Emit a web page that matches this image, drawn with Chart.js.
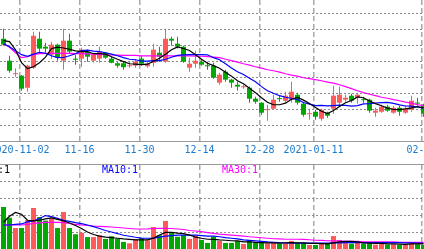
<!DOCTYPE html>
<html><head><meta charset="utf-8">
<script src="https://cdn.jsdelivr.net/npm/chart.js@4/dist/chart.umd.min.js"></script>
<style>
html,body{margin:0;padding:0;background:#fff;overflow:hidden;width:424px;height:249px}
#c1{position:absolute;left:0;top:0}
#c2{position:absolute;left:0;top:165px}
</style></head><body>
<canvas id="c1" width="424" height="165"></canvas>
<canvas id="c2" width="424" height="84"></canvas>
<script>
// ---- data ----
const tickPos = [3, 13, 23, 33, 43, 52, 70];
const tickLabels = ['2020-11-02', '11-16', '11-30', '12-14', '12-28', '2021-01-11', '02-04'];

const open = [6.43,5.05,4.20,4.11,3.35,4.61,6.43,5.93,5.43,6.06,
  5.05,6.31,5.18,5.18,5.62,5.05,5.18,5.55,5.18,4.89,
  4.89,4.70,4.74,5.18,4.70,4.92,5.55,4.99,6.43,6.12,
  5.93,4.61,4.86,4.99,4.77,4.74,3.67,4.36,3.86,3.54,
  3.38,3.35,2.66,2.41,1.94,2.03,2.69,2.53,2.60,2.91,
  2.35,1.69,1.84,1.40,1.78,2.03,2.41,2.60,2.85,2.72,
  2.63,2.60,1.78,1.84,2.16,1.78,2.09,1.78,1.97,2.41,2.28];
const high = [7.06,5.36,4.58,4.15,4.80,6.87,6.87,6.18,6.25,6.12,
  7.06,6.75,5.43,5.87,5.74,5.55,5.93,5.62,5.30,4.99,
  4.99,4.99,5.14,5.36,4.99,6.12,5.93,7.06,6.56,6.56,
  5.99,5.24,5.68,5.11,4.99,4.92,4.30,4.48,3.92,3.73,
  3.54,3.42,2.79,2.44,2.28,2.91,2.85,3.10,3.73,3.04,
  2.47,2.03,1.97,2.03,1.84,3.48,3.42,2.91,2.97,3.04,
  2.79,2.66,2.09,2.28,2.28,2.22,2.22,2.22,2.85,2.72,2.35];
const low = [5.99,4.30,4.04,3.16,3.10,4.55,5.62,5.55,5.18,5.05,
  4.48,5.49,4.80,4.67,4.99,4.92,4.92,5.18,4.89,4.61,
  4.48,4.61,4.61,4.74,4.61,4.67,4.99,4.92,5.99,5.81,
  4.92,4.36,4.61,4.74,4.48,3.92,3.54,3.73,3.35,3.16,
  3.29,2.41,2.35,1.65,1.28,1.97,2.47,2.41,2.41,2.28,
  1.53,1.34,1.34,1.28,1.47,1.72,2.22,2.47,2.41,2.35,
  2.41,1.78,1.53,1.78,1.84,1.72,1.59,1.72,1.84,2.22,1.53];
const close = [6.06,4.42,4.23,3.29,4.74,6.62,5.81,5.81,6.06,5.24,
  6.31,5.62,5.11,5.74,5.30,5.43,5.62,5.24,4.92,4.74,
  4.64,4.74,4.99,4.86,4.86,5.74,5.30,6.43,6.31,5.93,
  4.99,4.86,5.05,4.80,4.70,3.98,4.17,3.86,3.67,3.42,
  3.42,2.66,2.47,1.78,1.97,2.60,2.63,2.85,3.10,2.41,
  1.65,1.72,1.53,1.97,1.59,2.85,2.91,2.72,2.53,2.91,
  2.57,1.91,1.91,2.16,1.91,2.09,1.84,2.03,2.53,2.35,1.72];
const ma5 = [6.31,6.25,5.74,4.92,4.55,4.67,4.92,5.27,5.81,5.90,
  5.85,5.77,5.67,5.62,5.62,5.49,5.49,5.46,5.30,5.14,
  4.99,4.86,4.83,4.80,4.83,5.02,5.21,5.46,5.74,5.92,
  5.82,5.69,5.43,5.14,4.89,4.74,4.58,4.33,4.08,3.79,
  3.60,3.32,3.04,2.72,2.44,2.28,2.28,2.38,2.63,2.74,
  2.57,2.36,2.11,1.87,1.72,1.92,2.17,2.41,2.55,2.77,
  2.72,2.52,2.35,2.22,2.07,1.98,1.97,2.02,2.08,2.16,2.09];
const ma10 = [6.12,5.93,5.68,5.43,5.33,5.46,5.58,5.52,5.36,5.24,
  5.25,5.36,5.49,5.68,5.71,5.65,5.62,5.55,5.46,5.36,
  5.24,5.14,5.11,5.02,5.02,5.05,5.05,5.14,5.27,5.38,
  5.42,5.43,5.43,5.43,5.42,5.24,5.11,4.86,4.59,4.36,
  4.18,3.95,3.72,3.42,3.16,3.00,2.85,2.75,2.69,2.60,
  2.42,2.32,2.23,2.24,2.21,2.23,2.25,2.24,2.19,2.23,
  2.33,2.35,2.39,2.41,2.43,2.37,2.27,2.20,2.19,2.14,2.06];
const ma30 = [6.12,5.90,5.55,5.24,5.30,5.43,5.49,5.51,5.51,5.51,
  5.51,5.51,5.50,5.49,5.48,5.47,5.45,5.43,5.41,5.40,
  5.39,5.38,5.38,5.36,5.36,5.36,5.36,5.36,5.36,5.36,
  5.36,5.35,5.34,5.33,5.31,5.28,5.24,5.14,5.05,4.96,
  4.86,4.77,4.67,4.58,4.48,4.42,4.33,4.23,4.14,4.08,
  3.98,3.92,3.86,3.79,3.70,3.64,3.54,3.42,3.29,3.16,
  3.04,2.94,2.85,2.75,2.69,2.60,2.53,2.44,2.38,2.28,2.22];
const volume = [2.50,1.86,1.25,1.25,1.72,2.44,1.90,1.69,1.83,1.25,
  2.20,1.25,0.88,0.97,0.71,0.71,0.82,0.60,0.76,0.60,
  0.42,0.34,0.58,0.65,0.52,1.31,0.82,1.67,0.95,0.73,
  0.82,0.60,0.79,0.54,0.36,0.73,0.48,0.36,0.36,0.48,
  0.30,0.52,0.38,0.38,0.34,0.38,0.32,0.32,0.48,0.34,
  0.34,0.24,0.24,0.30,0.30,0.77,0.54,0.43,0.32,0.40,
  0.32,0.34,0.26,0.38,0.26,0.28,0.24,0.26,0.40,0.28,0.24];
const volMa5 = [1.59,1.95,2.18,2.07,1.71,1.67,1.71,1.79,1.85,1.76,
  1.67,1.55,1.40,1.22,1.01,0.86,0.77,0.71,0.68,0.64,
  0.60,0.57,0.54,0.54,0.54,0.65,0.83,0.99,0.99,0.95,
  0.92,0.83,0.71,0.64,0.58,0.57,0.54,0.52,0.49,0.48,
  0.43,0.43,0.40,0.38,0.36,0.36,0.35,0.36,0.38,0.37,
  0.36,0.34,0.33,0.32,0.30,0.36,0.42,0.45,0.45,0.42,
  0.37,0.35,0.33,0.33,0.31,0.30,0.29,0.28,0.31,0.31,0.30];
const volMa10 = [1.43,1.43,1.46,1.49,1.61,1.67,1.82,1.99,1.93,1.82,
  1.71,1.64,1.57,1.51,1.43,1.33,1.22,1.10,1.01,0.92,
  0.82,0.76,0.70,0.65,0.64,0.65,0.71,0.77,0.80,0.82,
  0.83,0.83,0.82,0.80,0.77,0.77,0.73,0.68,0.64,0.60,
  0.54,0.51,0.48,0.45,0.42,0.40,0.38,0.37,0.36,0.35,
  0.35,0.35,0.35,0.35,0.35,0.36,0.37,0.38,0.38,0.38,
  0.38,0.38,0.38,0.38,0.38,0.38,0.38,0.36,0.36,0.35,0.34];
const volMa30 = [1.43,1.43,1.43,1.43,1.46,1.52,1.55,1.58,1.59,1.58,
  1.57,1.52,1.46,1.43,1.40,1.37,1.35,1.33,1.31,1.28,
  1.25,1.22,1.19,1.19,1.20,1.22,1.23,1.23,1.22,1.19,
  1.16,1.10,1.07,1.03,0.98,0.93,0.89,0.86,0.83,0.80,
  0.77,0.73,0.70,0.67,0.64,0.61,0.60,0.58,0.58,0.58,
  0.57,0.55,0.52,0.51,0.49,0.48,0.48,0.46,0.46,0.45,
  0.43,0.43,0.43,0.42,0.42,0.42,0.40,0.40,0.40,0.39,0.39];

// ---- styling / layout ----
const RED = '#ff5a5a', GREEN = '#00a800';
const GRID_H = '#8c8c8c', GRID_V = '#a8a8a8';
const FONT = '10px "DejaVu Sans Mono", "Liberation Mono", monospace';
const X_MIN = -3.5 / 6, X_MAX = -3.5 / 6 + 424 / 6;
const TICK_SHIFT = -1 / 3;
const PRICE_MAX = 141 / 15.9;

const idx = close.map((_, i) => i);
const colors = idx.map(i => close[i] >= open[i] ? RED : GREEN);
const pts = arr => arr.map((v, i) => ({ x: i, y: v }));

function xScale(h) {
  return {
    type: 'linear', min: X_MIN, max: X_MAX, offset: false,
    afterBuildTicks: s => { s.ticks = tickPos.map(p => ({ value: p + TICK_SHIFT })); },
    afterFit: s => { s.height = h; s.paddingLeft = 0; s.paddingRight = 0; },
    ticks: { display: false },
    grid: { color: GRID_V, lineWidth: 1.5, drawTicks: false, offset: false },
    border: { display: false, dash: [5, 3] }
  };
}
function yScale(max, gridVals) {
  return {
    type: 'linear', min: 0, max: max, position: 'left',
    afterBuildTicks: s => { s.ticks = gridVals.map(v => ({ value: v })); },
    afterFit: s => { s.width = 0; },
    ticks: { display: false },
    grid: { color: GRID_H, lineWidth: 1, drawTicks: false },
    border: { display: false, dash: [2, 2] }
  };
}
function line(label, arr, color) {
  return { type: 'line', label, data: pts(arr), borderColor: color, borderWidth: 1.2,
    pointRadius: 0, tension: 0, fill: false, order: 0 };
}
const common = {
  responsive: false, animation: false, devicePixelRatio: 1, events: [],
  layout: { padding: 0 },
  plugins: { legend: { display: false }, tooltip: { enabled: false } }
};

const topDeco = {
  id: 'topDeco',
  afterDraw(chart) {
    const ctx = chart.ctx, xs = chart.scales.x, b = chart.chartArea.bottom;
    ctx.save();
    ctx.strokeStyle = '#999'; ctx.lineWidth = 1;
    ctx.beginPath();
    ctx.moveTo(0, b + 0.5); ctx.lineTo(chart.width, b + 0.5);
    ctx.moveTo(0, chart.height - 0.5); ctx.lineTo(chart.width, chart.height - 0.5);
    ctx.stroke();
    ctx.fillStyle = '#1a7ad0'; ctx.font = FONT;
    ctx.textAlign = 'center'; ctx.textBaseline = 'middle';
    tickPos.forEach((p, i) => ctx.fillText(tickLabels[i], xs.getPixelForValue(p + TICK_SHIFT), b + 9.5));
    ctx.restore();
  }
};
const volDeco = {
  id: 'volDeco',
  afterDraw(chart) {
    const ctx = chart.ctx;
    ctx.save();
    ctx.font = FONT; ctx.textAlign = 'left'; ctx.textBaseline = 'alphabetic';
    ctx.fillStyle = '#000'; ctx.fillText('MA5:1', -20, 8);
    ctx.fillStyle = '#0000ff'; ctx.fillText('MA10:1', 102, 8);
    ctx.fillStyle = '#ff00ff'; ctx.fillText('MA30:1', 222, 8);
    ctx.restore();
  }
};

new Chart(document.getElementById('c1'), {
  type: 'bar',
  data: { datasets: [
    line('MA5', ma5, '#000000'),
    line('MA10', ma10, '#0000ff'),
    line('MA30', ma30, '#ff00ff'),
    { type: 'bar', label: 'body', data: idx.map(i => ({ x: i, y: [open[i], close[i]] })),
      backgroundColor: colors, barThickness: 5, minBarLength: 1, grouped: false, inflateAmount: 0, order: 1 },
    { type: 'bar', label: 'wick', data: idx.map(i => ({ x: i, y: [low[i], high[i]] })),
      backgroundColor: colors, barThickness: 1, grouped: false, inflateAmount: 0, order: 2 }
  ] },
  options: Object.assign({}, common, {
    scales: { x: xScale(24), y: yScale(PRICE_MAX, [1, 2, 3, 4, 5, 6, 7, 8]) }
  }),
  plugins: [topDeco]
});

new Chart(document.getElementById('c2'), {
  type: 'bar',
  data: { datasets: [
    line('MA5', volMa5, '#000000'),
    line('MA10', volMa10, '#0000ff'),
    line('MA30', volMa30, '#ff00ff'),
    { type: 'bar', label: 'VOL', data: idx.map(i => ({ x: i, y: volume[i] })),
      backgroundColor: colors, barThickness: 5, grouped: false, inflateAmount: 0, order: 1 }
  ] },
  options: Object.assign({}, common, {
    scales: { x: xScale(0), y: yScale(5, [1, 2, 3, 4]) }
  }),
  plugins: [volDeco]
});
</script>
</body></html>
